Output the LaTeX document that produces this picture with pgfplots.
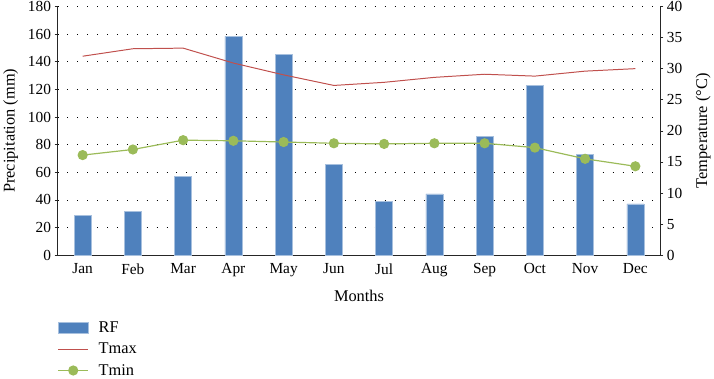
\documentclass[border=0pt]{standalone}
\usepackage{fontspec}
\setmainfont{Liberation Serif}
\usepackage{pgfplots}
\pgfplotsset{compat=1.18}
\definecolor{rfblue}{HTML}{4F81BD}
\definecolor{rfedge}{HTML}{A7C0DE}
\definecolor{tmaxred}{HTML}{C0504D}
\definecolor{tmingreen}{HTML}{9BBB59}
\pgfplotsset{
  rfleg/.style={legend image code/.code={\draw[##1] (0bp,-5.5bp) rectangle (30bp,5.5bp);}},
  lineleg/.style={legend image code/.code={\draw[mark repeat=2,mark phase=2,##1] plot coordinates {(0bp,0bp)(15bp,0bp)(30bp,0bp)};}},
}
\pgfplotstableread{
x rf tmax tmin
0 28.8 32.0 16.1
1 31.9 33.2 17.0
2 56.9 33.3 18.5
3 158.4 30.9 18.4
4 145.2 29.0 18.2
5 65.8 27.3 18.0
6 38.9 27.8 17.9
7 44.4 28.6 18.0
8 85.7 29.1 18.0
9 122.6 28.8 17.3
10 73.0 29.6 15.5
11 37.2 30.0 14.3
}\datatable
\begin{document}
\begin{tikzpicture}[font=\fontsize{15.5}{18}\selectfont]
\pgfplotsset{
  common/.style={
    scale only axis, width=606bp, height=250bp,
    xmin=-0.5, xmax=11.5,
    axis line style={-, line width=0.9pt, black!85},
    tick style={black!85, line width=0.6pt},
    major tick length=3bp,
    tick align=outside,
    ticklabel style={font=\fontsize{15.5}{18}\selectfont},
    yticklabel style={inner ysep=0pt},
    label style={font=\fontsize{16.5}{19}\selectfont},
    /pgf/number format/assume math mode=true,
  }
}
\begin{axis}[common, name=ax,
  ymin=0, ymax=180, ytick={0,20,...,180},
  xtick={0,...,11}, xticklabels={Jan,Feb,Mar,Apr,May,Jun,Jul,Aug,Sep,Oct,Nov,Dec},
  x tick style={draw=none},
  xticklabel style={yshift=-2bp},
  axis x line*=bottom, axis y line*=left,
  ymajorgrids, grid style={black, line width=0.7pt, dash pattern=on 0.7pt off 9.3pt},
  xlabel={Months}, ylabel={Precipitation (mm)},
  xlabel style={at={(axis description cs:0.5,0)}, anchor=center, yshift=-41bp},
  ylabel style={at={(axis description cs:-0.0776,0.5)}, anchor=center},
]
\addplot[ybar, bar width=17bp, fill=rfblue, draw=rfedge, line width=0.6pt] table[x=x, y=rf] {\datatable};
\end{axis}
\begin{axis}[common,
  ymin=0, ymax=40, ytick={0,5,...,40},
  axis y line*=right, axis x line=none,
  ylabel={Temperature (°C)},
  ylabel style={at={(axis description cs:1.071,0.5)}, anchor=center},
  legend style={at={(0,-0.26)}, anchor=north west, draw=none, fill=none,
    inner sep=0pt, row sep=5bp, column sep=8bp, cells={anchor=west},
    font=\fontsize{16.5}{19}\selectfont},
  lineleg,
]
\addlegendimage{rfleg, fill=rfblue, draw=rfedge, line width=0.6pt}
\addlegendentry{RF}
\addplot[tmaxred, line width=1pt, mark=none] table[x=x, y=tmax] {\datatable};
\addlegendentry{Tmax}
\addplot[tmingreen, line width=1.2pt, mark=*, mark size=4.5bp, mark options={fill=tmingreen, draw=tmingreen}] table[x=x, y=tmin] {\datatable};
\addlegendentry{Tmin}
\end{axis}
\path ([shift={(-56bp,-122bp)}]ax.south west) rectangle ([shift={(52bp,6.5bp)}]ax.north east);
\end{tikzpicture}
\end{document}
